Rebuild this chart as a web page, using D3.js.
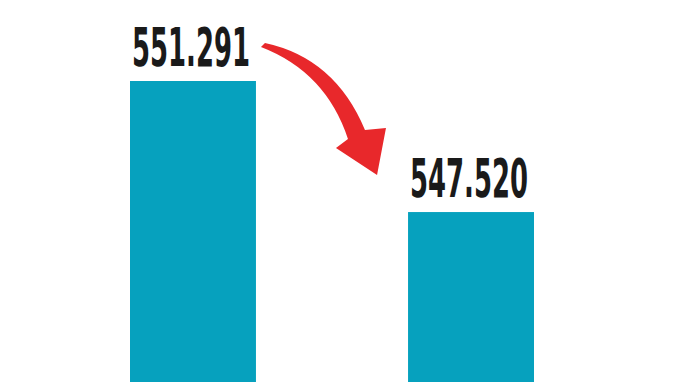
<!DOCTYPE html>
<html>
<head>
<meta charset="utf-8">
<script src="https://cdn.jsdelivr.net/npm/d3@7"></script>
<style>
  body { margin: 0; background: #fff; }
  svg { display: block; }
</style>
</head>
<body>
<div id="chart"></div>
<script>
const width = 696
const height = 385
const margin = ({top: 81, right: 162, bottom: 3, left: 130})

// data
const categories = ["before", "after"]
const values = [551291, 547520]
const yBase = 542630   // axis is cut, bars don't start at zero

const data = categories.map((c, i) => ({cat: c, value: values[i]}))

// european thousands separator
const fmt = d3.formatLocale({decimal: ",", thousands: ".", grouping: [3], currency: ["", "€"]}).format(",")

const x = d3.scaleBand()
  .domain(categories)
  .range([margin.left, width - margin.right])
  .paddingInner(0.547)
  .paddingOuter(0)

const y = d3.scaleLinear()
  .domain([yBase, d3.max(values)])
  .range([height - margin.bottom, margin.top])

const svg = d3.select("#chart")
  .append("svg")
  .attr("width", width)
  .attr("height", height)
  .attr("viewBox", [0, 0, width, height])

svg.append("g")
  .selectAll("rect")
  .data(data)
  .join("rect")
    .attr("fill", "#06a1be")
    .attr("x", d => x(d.cat))
    .attr("y", d => y(d.value))
    .attr("width", x.bandwidth())
    .attr("height", d => y(yBase) - y(d.value))

svg.append("g")
  .selectAll("text")
  .data(data)
  .join("text")
    .attr("x", d => x(d.cat) + x.bandwidth() / 2 - 2)
    .attr("y", d => y(d.value) - 15)
    .attr("text-anchor", "middle")
    .attr("font-family", "'Liberation Sans Narrow', 'DejaVu Sans Condensed', sans-serif")
    .attr("font-weight", "bold")
    .attr("font-size", 54)
    .attr("fill", "#1a1a1a")
    .attr("textLength", 118)
    .attr("lengthAdjust", "spacingAndGlyphs")
    .text(d => fmt(d.value))

// red curved arrow from the first label down to the second bar
const a = data[0], b = data[1]
const x0 = x(a.cat) + x.bandwidth() / 2 + 68   // tail, right of first label
const y0 = y(a.value) - 36
const tip = [x(b.cat) - 31, y(b.value) - 37]

const p = d3.path()
p.moveTo(x0, y0 + 2)
p.lineTo(x0 + 4, y0 - 2)
p.quadraticCurveTo(x0 + 74, y0 + 13, x0 + 104, y0 + 85)
p.lineTo(x0 + 125, y0 + 83)
p.lineTo(tip[0], tip[1])
p.lineTo(x0 + 75, y0 + 103)
p.lineTo(x0 + 87, y0 + 94)
p.quadraticCurveTo(x0 + 65, y0 + 27, x0, y0 + 2)
p.closePath()

svg.append("path")
  .attr("d", p.toString())
  .attr("fill", "#e8282b")
</script>
</body>
</html>
